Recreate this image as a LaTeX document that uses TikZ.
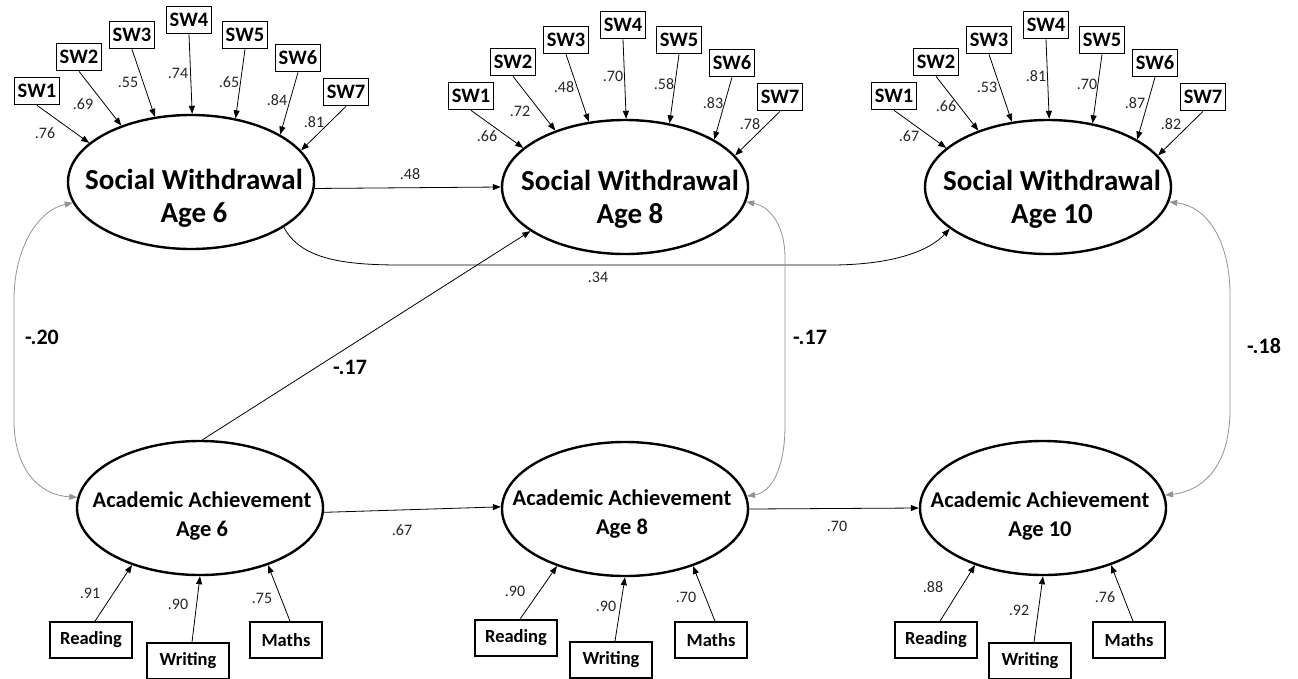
\documentclass[tikz,border=0pt]{standalone}
\usepackage{fontspec}
\setmainfont{Carlito}
\usetikzlibrary{shapes.geometric,arrows.meta}
\begin{document}
\begin{tikzpicture}[x=1pt,y=-1pt,
  lat/.style={ellipse,draw,line width=2.4pt,minimum width=246pt,minimum height=134pt,inner sep=0pt},
  swt/.style={font=\fontsize{29}{33}\selectfont\bfseries,align=center,inner sep=0pt},
  aat/.style={font=\fontsize{22.5}{29}\selectfont\bfseries,align=center,inner sep=0pt},
  ind/.style={draw,line width=1.7pt,minimum width=45pt,minimum height=27pt,inner sep=0pt,font=\fontsize{20.5}{20.5}\selectfont\bfseries},
  obs/.style={draw,line width=1.7pt,minimum height=36pt,inner sep=0pt,font=\fontsize{18.5}{18.5}\selectfont\bfseries},
  load/.style={-{Triangle[length=8pt,width=6pt]},line width=0.8pt},
  cov/.style={{Triangle[length=8pt,width=6pt]}-{Triangle[length=8pt,width=6pt]},line width=0.8pt,draw=gray!85},
  num/.style={font=\fontsize{16}{16}\selectfont,text=black!85,inner sep=0pt},
  big/.style={font=\fontsize{22}{22}\selectfont\bfseries,inner sep=0pt},
]
\useasboundingbox[fill=white] (0,0) rectangle (1298,678);

% latent variables
\node[lat] (sw6)  at (191,182) {};
\node[lat] (sw8)  at (625,187) {};
\node[lat] (sw10) at (1048,187) {};
\node[lat] (aa6)  at (200,508) {};
\node[lat] (aa8)  at (625,509) {};
\node[lat] (aa10) at (1043,508) {};

\node[swt] (sw6t)  at (194,198)  {Social Withdrawal\\Age 6};
\node[swt] (sw8t)  at (630,199)  {Social Withdrawal\\Age 8};
\node[swt] (sw10t) at (1052,199) {Social Withdrawal\\Age 10};
\node[aat] (aa6t)  at (202,516)  {Academic Achievement\\Age 6};
\node[aat] (aa8t)  at (622,514)  {Academic Achievement\\Age 8};
\node[aat] (aa10t) at (1040,516) {Academic Achievement\\Age 10};

% social withdrawal indicators
\foreach \g/\cx/\cy in {6/191/182, 8/625/187, 10/1048/187}{
  \foreach \i/\dx/\dy/\ang in {1/-154/-91/159, 2/-112/-125/141, 3/-59/-147/119,
      4/-2/-162/89, 5/54/-147/55, 6/107/-124/28, 7/155/-90/16}{
    \node[ind] (sw\g i\i) at ({\cx+(\dx)},{\cy+(\dy)}) {SW\i};
    \draw[load] (sw\g i\i.south) -- (sw\g.\ang);
  }
}

% loadings, age 6
\node[num] (l6a) at (45,133) {.76};
\node[num] (l6b) at (83,104) {.69};
\node[num] (l6c) at (128,82) {.55};
\node[num] (l6d) at (178,73) {.74};
\node[num] (l6e) at (229,82) {.65};
\node[num] (l6f) at (277,100) {.84};
\node[num] (l6g) at (314,122) {.81};
% loadings, age 8
\node[num] (l8a) at (487,136) {.66};
\node[num] (l8b) at (520,111) {.72};
\node[num] (l8c) at (564,87) {.48};
\node[num] (l8d) at (613,76) {.70};
\node[num] (l8e) at (664,84) {.58};
\node[num] (l8f) at (713,103) {.83};
\node[num] (l8g) at (750,124) {.78};
% loadings, age 10
\node[num] (l10a) at (909,136) {.67};
\node[num] (l10b) at (946,106) {.66};
\node[num] (l10c) at (987,87) {.53};
\node[num] (l10d) at (1036,76) {.81};
\node[num] (l10e) at (1087,84) {.70};
\node[num] (l10f) at (1135,103) {.87};
\node[num] (l10g) at (1171,124) {.82};

% academic indicators
\node[obs,minimum width=82pt] (rd6) at (91,640)  {Reading};
\node[obs,minimum width=82pt] (wr6) at (188,661) {Writing};
\node[obs,minimum width=72pt] (ma6) at (286,640) {Maths};
\node[obs,minimum width=82pt] (rd8) at (516,638) {Reading};
\node[obs,minimum width=82pt] (wr8) at (611,660) {Writing};
\node[obs,minimum width=72pt] (ma8) at (711,640) {Maths};
\node[obs,minimum width=82pt] (rd10) at (936,640)  {Reading};
\node[obs,minimum width=82pt] (wr10) at (1030,661) {Writing};
\node[obs,minimum width=72pt] (ma10) at (1129,640) {Maths};

\foreach \g in {6,8,10}{
  \draw[load] ([xshift=4pt]rd\g.north) -- (aa\g.220);
  \draw[load] ([xshift=4pt]wr\g.north) -- (aa\g.270);
  \draw[load] ([xshift=4pt]ma\g.north) -- (aa\g.320);
}
\node[num] (m6a) at (90,593)  {.91};
\node[num] (m6b) at (178,604) {.90};
\node[num] (m6c) at (262,598) {.75};
\node[num] (m8a) at (515,591) {.90};
\node[num] (m8b) at (606,606) {.90};
\node[num] (m8c) at (686,597) {.70};
\node[num] (m10a) at (933,587)  {.88};
\node[num] (m10b) at (1019,610) {.92};
\node[num] (m10c) at (1105,597) {.76};

% structural paths
\draw[load] (sw6.-3) -- (sw8.180);
\node[num] (p1) at (410,174) {.48};
\draw[load] (sw6.334) .. controls (300,258) and (340,265) .. (400,265)
  -- (830,265) .. controls (895,265) and (930,250) .. (sw10.203);
\node[num] (p2) at (598,277) {.34};
\draw[load] (aa6.88) -- (sw8.205);
\node[big] (p3) at (350,367) {-.17};
\draw[load] (aa6.-2) -- (aa8.179);
\node[num] (p4) at (402,530) {.67};
\draw[load] (aa8.east) -- (aa10.west);
\node[num] (p5) at (837,526) {.70};

% covariances
\draw[cov] (sw6.190) .. controls (38,210) and (14,248) .. (14,300)
  -- (14,420) .. controls (14,468) and (38,495) .. (aa6.175);
\node[big] (c1) at (42,337) {-.20};
\draw[cov] (sw8.-7) .. controls (772,207) and (785,228) .. (785,258)
  -- (785,425) .. controls (785,468) and (772,492) .. (aa8.6);
\node[big] (c2) at (810,337) {-.17};
\draw[cov] (sw10.-7) .. controls (1210,207) and (1230,245) .. (1230,295)
  -- (1230,410) .. controls (1230,460) and (1208,490) .. (aa10.6);
\node[big] (c3) at (1264,346) {-.18};
\end{tikzpicture}
\end{document}
